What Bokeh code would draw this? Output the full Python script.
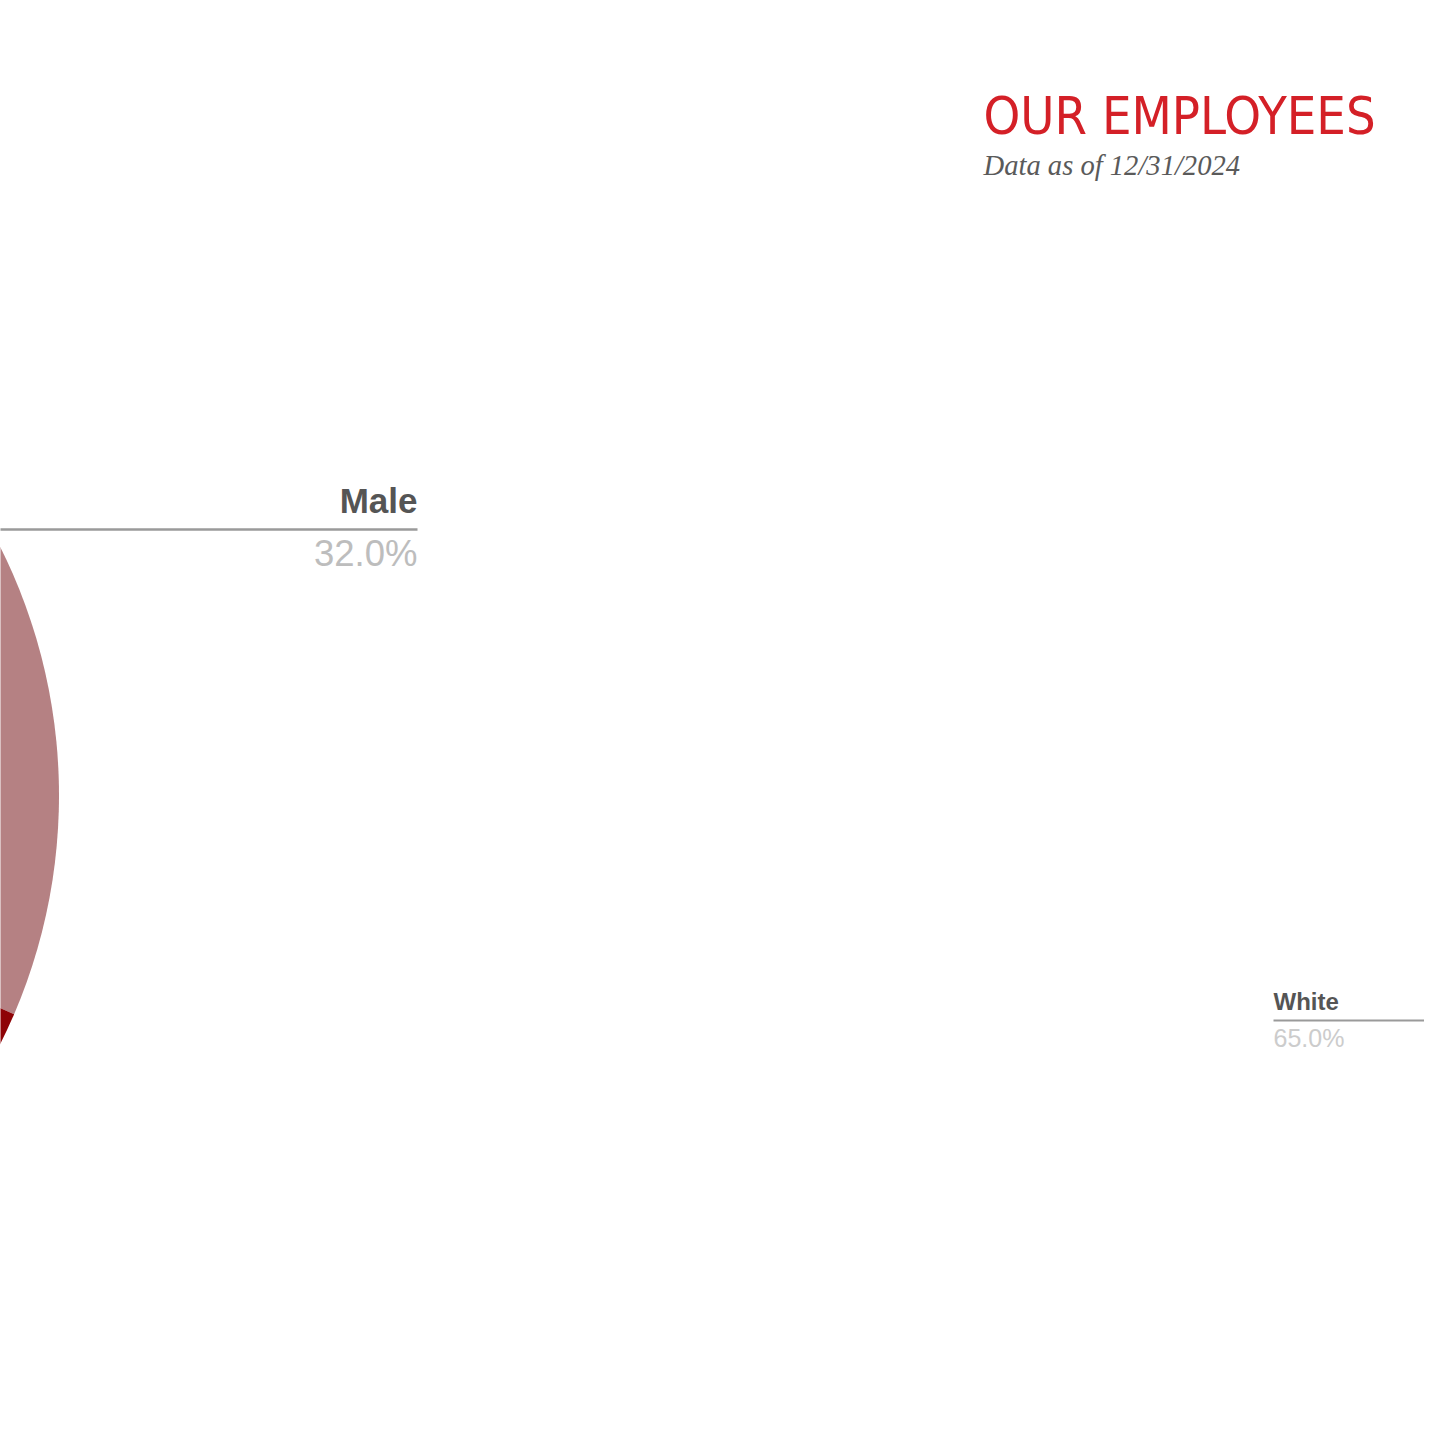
import math
from bokeh.plotting import figure
from bokeh.models import Range1d
from bokeh.core.properties import value
from bokeh.embed import file_html
from bokeh.resources import INLINE

# ---- data ----
gender_labels = ["Male", "Female"]
gender_values = [32.0, 68.0]
gender_colors = ["#b58183", "#8e0306"]

ethnicity_labels = ["White"]
ethnicity_values = [65.0]

title_text = "OUR EMPLOYEES"
subtitle_text = "Data as of 12/31/2024"

W = H = 1424
p = figure(width=W, height=H, output_backend="svg", toolbar_location=None,
           x_range=Range1d(0, W), y_range=Range1d(0, H), min_border=0)
p.axis.visible = False
p.grid.visible = False
p.outline_line_color = None
p.background_fill_color = "white"
p.border_fill_color = "white"

def Y(py):
    return H - py

def TY(py, size):
    # compensate the text baseline offset of the svg backend
    return Y(py - 0.37 * size)

# ---- gender pie (mostly off-canvas to the left) ----
cx, cy, r = -496.5, Y(795), 555
total = sum(gender_values)
start = math.radians(92)  # near 12 o'clock, clockwise
starts, ends = [], []
for v in gender_values:
    span = 2 * math.pi * v / total
    ends.append(start)
    starts.append(start - span)
    start -= span
p.wedge(x=[cx] * len(gender_values), y=[cy] * len(gender_values), radius=r,
        start_angle=starts, end_angle=ends, fill_color=gender_colors,
        line_color=None)

# Male label with connector
p.line(x=[-20, 417], y=[Y(529), Y(529)], line_color="#9a9a9a", line_width=2.5)
p.text(x=[417], y=[TY(513, 35)], text=[gender_labels[0]], text_align="right",
       text_baseline="alphabetic", text_font=value("Liberation Sans"),
       text_font_size="35px", text_font_style="bold", text_color="#555555")
p.text(x=[417], y=[TY(567, 36.5)], text=[f"{gender_values[0]:.1f}%"], text_align="right",
       text_baseline="alphabetic", text_font=value("Liberation Sans"),
       text_font_size="36.5px", text_color="#bdbdbd")

# White label (its pie lies off-canvas to the right)
p.line(x=[1273, 1460], y=[Y(1020), Y(1020)], line_color="#9a9a9a", line_width=2)
p.text(x=[1273], y=[TY(1010, 24)], text=[ethnicity_labels[0]], text_align="left",
       text_baseline="alphabetic", text_font=value("Liberation Sans"),
       text_font_size="24px", text_font_style="bold", text_color="#555555")
p.text(x=[1273], y=[TY(1047, 25)], text=[f"{ethnicity_values[0]:.1f}%"], text_align="left",
       text_baseline="alphabetic", text_font=value("Liberation Sans"),
       text_font_size="25px", text_color="#cccccc")

# Title and subtitle
p.text(x=[983], y=[TY(135, 52)], text=[title_text], text_align="left",
       text_baseline="alphabetic", text_font=value("DejaVu Sans Condensed"),
       text_font_size="52px", text_color="#d42027")
p.text(x=[983], y=[TY(176, 28.6)], text=[subtitle_text], text_align="left",
       text_baseline="alphabetic", text_font=value("Liberation Serif"),
       text_font_size="28.6px", text_font_style="italic", text_color="#5a5a5a")

open("out.html", "w").write(file_html(p, INLINE))
